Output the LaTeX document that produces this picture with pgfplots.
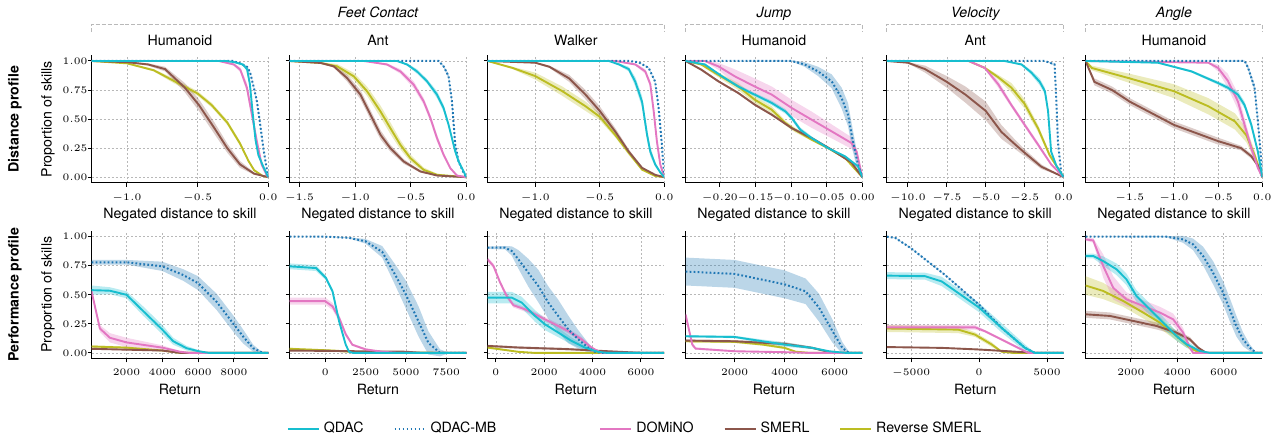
\documentclass[border=0pt]{standalone}
\usepackage{pgfplots}
\pgfplotsset{compat=1.18}
\usepgfplotslibrary{fillbetween}
\usepackage{fontspec}
\setmainfont{TeX Gyre Heros}
\definecolor{cQ}{HTML}{17BECF}
\definecolor{cB}{HTML}{1F77B4}
\definecolor{cP}{HTML}{E377C2}
\definecolor{cS}{HTML}{8C564B}
\definecolor{cR}{HTML}{BCBD22}
\newcommand{\lf}{\fontsize{7.1}{8.5}\selectfont}
\newcommand{\curve}[3]{%
 \addplot[draw=none, name path=U] table[row sep=\\, x=x, y expr=\thisrow{y}+\thisrow{d}] {x y d\\ #3};
 \addplot[draw=none, name path=L] table[row sep=\\, x=x, y expr=\thisrow{y}-\thisrow{d}] {x y d\\ #3};
 \addplot[fill=#1, fill opacity=0.3, draw=none] fill between[of=U and L];
 \addplot[color=#1, line width=0.95pt, #2] table[row sep=\\, x=x, y=y] {x y d\\ #3};
}
\pgfplotsset{
 base/.style={
  scale only axis, width=88.5pt, height=64pt, anchor=south west,
  axis x line*=bottom, axis y line*=left,
  axis line style={-, line width=0.5pt, black},
  tick align=outside, major tick length=1.8pt,
  tick style={black, line width=0.5pt},
  grid=major, grid style={dash pattern=on 1pt off 1pt, black!28, line width=0.3pt},
  ymin=-0.05, ymax=1.05, ytick={0,0.25,0.5,0.75,1},
  tick label style={font=\fontsize{5.2}{6}\selectfont},
  xticklabel style={yshift=0pt}, yticklabel style={xshift=3.3pt},
  yticklabel style={/pgf/number format/fixed, /pgf/number format/fixed zerofill, /pgf/number format/precision=2},
  scaled ticks=false,
  title style={at={(0.5,1)}, anchor=base, yshift=-1pt, font=\lf},
  every axis x label/.style={at={(axis description cs:0.5,0)}, anchor=base, yshift=-17.8pt, font=\lf},
  every axis y label/.style={at={(axis description cs:0,0.5)}, xshift=-20pt, rotate=90, anchor=base, font=\lf},
 },
 top/.style={base, at={(#1,128.5pt)}, xlabel={Negated distance to skill}, xmax=0},
 bot/.style={base, at={(#1,40.5pt)}, xlabel={Return}, xticklabel style={/pgf/number format/1000 sep={}}},
 noy/.style={yticklabels={}},
 p1/.style={xticklabel style={/pgf/number format/fixed, /pgf/number format/fixed zerofill, /pgf/number format/precision=1}},
 p2/.style={xticklabel style={/pgf/number format/fixed, /pgf/number format/fixed zerofill, /pgf/number format/precision=2}},
 dot/.style={line width=1pt, dash pattern=on 0.9pt off 1.1pt},
}
\begin{document}
\begin{tikzpicture}
% ---------------- top row ----------------
\begin{axis}[top=45.85pt, xmin=-1.25, xtick={-1,-0.5,0}, p1, title={Humanoid}, ylabel={Proportion of skills}]
\curve{cR}{solid}{-1.25 1 0\\ -1.0 0.98 0.005\\ -0.81 0.92 0.01\\ -0.67 0.83 0.02\\ -0.50 0.72 0.02\\ -0.40 0.62 0.02\\ -0.29 0.47 0.02\\ -0.20 0.29 0.02\\ -0.14 0.14 0.01\\ -0.10 0.06 0.01\\ -0.04 0.01 0\\ 0 0 0\\}
\curve{cS}{solid}{-1.25 1 0\\ -1.0 0.99 0.005\\ -0.85 0.97 0.01\\ -0.73 0.93 0.02\\ -0.59 0.77 0.04\\ -0.49 0.62 0.05\\ -0.38 0.42 0.05\\ -0.29 0.25 0.04\\ -0.20 0.11 0.03\\ -0.10 0.03 0.01\\ 0 0 0\\}
\curve{cP}{solid}{-1.25 1 0\\ -0.35 1 0\\ -0.244 0.97 0.01\\ -0.198 0.925 0.02\\ -0.151 0.77 0.04\\ -0.116 0.54 0.04\\ -0.081 0.31 0.03\\ -0.047 0.11 0.02\\ -0.012 0.02 0\\ 0 0 0\\}
\curve{cB}{dot}{-1.25 1 0\\ -0.25 1 0\\ -0.20 0.98 0\\ -0.15 0.95 0.005\\ -0.128 0.90 0.01\\ -0.10 0.76 0.01\\ -0.08 0.65 0.01\\ -0.06 0.48 0.01\\ -0.035 0.25 0.01\\ -0.015 0.10 0\\ 0 0 0\\}
\curve{cQ}{solid}{-1.25 1 0\\ -0.30 1 0\\ -0.24 0.99 0.005\\ -0.18 0.97 0.01\\ -0.15 0.93 0.02\\ -0.13 0.80 0.03\\ -0.11 0.55 0.04\\ -0.09 0.32 0.03\\ -0.07 0.19 0.02\\ -0.035 0.09 0.01\\ 0 0 0\\}
\end{axis}
\begin{axis}[top=145pt, noy, xmin=-1.59, xtick={-1.5,-1,-0.5,0}, p1, title={Ant}]
\curve{cR}{solid}{-1.59 1 0\\ -1.311 0.983 0.005\\ -1.162 0.954 0.02\\ -1.012 0.868 0.03\\ -0.892 0.739 0.04\\ -0.772 0.566 0.05\\ -0.683 0.422 0.05\\ -0.593 0.279 0.04\\ -0.503 0.164 0.03\\ -0.383 0.063 0.02\\ -0.263 0.02 0.01\\ 0 0 0\\}
\curve{cS}{solid}{-1.59 1 0\\ -1.311 0.983 0.005\\ -1.192 0.954 0.01\\ -1.072 0.853 0.03\\ -0.952 0.71 0.04\\ -0.862 0.537 0.04\\ -0.772 0.365 0.04\\ -0.683 0.25 0.03\\ -0.563 0.135 0.02\\ -0.413 0.049 0.01\\ -0.263 0.014 0\\ 0 0 0\\}
\curve{cP}{solid}{-1.59 1 0\\ -0.922 1 0\\ -0.713 0.97 0.01\\ -0.593 0.91 0.02\\ -0.473 0.796 0.03\\ -0.383 0.652 0.03\\ -0.323 0.509 0.03\\ -0.263 0.336 0.03\\ -0.204 0.193 0.02\\ -0.144 0.078 0.01\\ -0.084 0.014 0\\ 0 0 0\\}
\curve{cB}{dot}{-1.59 1 0\\ -0.249 1 0\\ -0.204 0.954 0.01\\ -0.159 0.868 0.02\\ -0.129 0.652 0.02\\ -0.099 0.279 0.02\\ -0.069 0.135 0.01\\ -0.03 0.05 0\\ 0 0 0\\}
\curve{cQ}{solid}{-1.59 1 0\\ -0.623 1 0\\ -0.533 0.97 0.01\\ -0.443 0.91 0.02\\ -0.353 0.825 0.02\\ -0.263 0.71 0.03\\ -0.204 0.595 0.03\\ -0.159 0.451 0.02\\ -0.129 0.336 0.02\\ -0.099 0.221 0.02\\ -0.069 0.135 0.01\\ -0.024 0.05 0\\ 0 0 0\\}
\end{axis}
\begin{axis}[top=244.15pt, noy, xmin=-1.37, xtick={-1,-0.5,0}, p1, title={Walker}]
\curve{cR}{solid}{-1.37 1 0\\ -1.175 0.94 0.01\\ -1.0 0.87 0.03\\ -0.79 0.74 0.04\\ -0.61 0.61 0.04\\ -0.5 0.52 0.03\\ -0.378 0.36 0.02\\ -0.275 0.21 0.02\\ -0.172 0.065 0.01\\ -0.07 0.01 0\\ 0 0 0\\}
\curve{cS}{solid}{-1.37 1 0\\ -1.0 0.985 0.005\\ -0.89 0.95 0.01\\ -0.737 0.85 0.03\\ -0.61 0.71 0.04\\ -0.5 0.57 0.04\\ -0.378 0.39 0.03\\ -0.275 0.22 0.02\\ -0.172 0.08 0.01\\ -0.07 0.02 0\\ 0 0 0\\}
\curve{cP}{solid}{-1.37 1 0\\ -0.38 1 0\\ -0.224 0.97 0.01\\ -0.147 0.91 0.02\\ -0.108 0.80 0.03\\ -0.082 0.57 0.03\\ -0.057 0.31 0.03\\ -0.031 0.11 0.02\\ 0 0 0\\}
\curve{cB}{dot}{-1.37 1 0\\ -0.275 1 0\\ -0.2 0.99 0\\ -0.12 0.94 0.005\\ -0.07 0.82 0.01\\ -0.044 0.6 0.01\\ -0.018 0.28 0.01\\ 0 0 0\\}
\curve{cQ}{solid}{-1.37 1 0\\ -0.43 1 0\\ -0.35 0.97 0.01\\ -0.275 0.93 0.02\\ -0.224 0.82 0.04\\ -0.172 0.65 0.05\\ -0.134 0.37 0.05\\ -0.108 0.22 0.04\\ -0.07 0.11 0.02\\ -0.03 0.04 0.01\\ 0 0 0\\}
\end{axis}
\begin{axis}[top=343.35pt, noy, xmin=-0.248, xtick={-0.2,-0.15,-0.1,-0.05,0}, p2, title={Humanoid}]
\curve{cR}{solid}{-0.248 1 0\\ -0.226 0.97 0.01\\ -0.202 0.88 0.02\\ -0.174 0.78 0.03\\ -0.151 0.667 0.03\\ -0.127 0.58 0.03\\ -0.108 0.466 0.02\\ -0.095 0.408 0.02\\ -0.071 0.322 0.01\\ -0.048 0.25 0.01\\ -0.024 0.164 0.01\\ 0 0 0\\}
\curve{cS}{solid}{-0.248 1 0\\ -0.226 0.925 0.01\\ -0.202 0.825 0.01\\ -0.174 0.724 0.01\\ -0.151 0.624 0.01\\ -0.127 0.537 0.01\\ -0.099 0.422 0.01\\ -0.071 0.336 0.01\\ -0.043 0.236 0.01\\ -0.015 0.125 0.01\\ 0 0 0\\}
\curve{cP}{solid}{-0.248 1 0\\ -0.221 1 0.005\\ -0.202 0.954 0.03\\ -0.179 0.868 0.06\\ -0.151 0.78 0.07\\ -0.127 0.71 0.07\\ -0.099 0.595 0.07\\ -0.071 0.494 0.07\\ -0.043 0.394 0.06\\ -0.015 0.293 0.05\\ -0.008 0.22 0.03\\ 0 0 0\\}
\curve{cB}{dot}{-0.248 1 0\\ -0.099 1 0.005\\ -0.081 0.97 0.02\\ -0.062 0.91 0.04\\ -0.043 0.825 0.06\\ -0.029 0.68 0.09\\ -0.02 0.537 0.1\\ -0.015 0.365 0.1\\ -0.01 0.22 0.08\\ -0.006 0.106 0.04\\ 0 0 0\\}
\curve{cQ}{solid}{-0.248 1 0\\ -0.221 0.97 0.01\\ -0.197 0.868 0.01\\ -0.174 0.78 0.015\\ -0.151 0.71 0.015\\ -0.127 0.638 0.02\\ -0.108 0.566 0.02\\ -0.099 0.509 0.02\\ -0.087 0.408 0.02\\ -0.071 0.336 0.015\\ -0.048 0.25 0.01\\ -0.024 0.178 0.01\\ -0.006 0.092 0.01\\ 0 0 0\\}
\end{axis}
\begin{axis}[top=444.15pt, noy, xmin=-11.35, xtick={-10,-7.5,-5,-2.5,0}, p1, title={Ant}]
\curve{cS}{solid}{-11.35 1 0\\ -10 0.985 0.005\\ -8.9 0.93 0.03\\ -7.5 0.82 0.05\\ -6.3 0.71 0.07\\ -5 0.57 0.08\\ -4 0.39 0.06\\ -3.1 0.28 0.04\\ -2.5 0.21 0.03\\ -1.43 0.09 0.02\\ 0 0 0\\}
\curve{cR}{solid}{-11.35 1 0\\ -6.1 1 0\\ -5.06 0.94 0.01\\ -4.2 0.86 0.02\\ -3.35 0.77 0.04\\ -2.5 0.63 0.04\\ -1.64 0.42 0.03\\ -0.9 0.19 0.02\\ 0 0 0\\}
\curve{cP}{solid}{-11.35 1 0\\ -6.1 1 0\\ -5.06 0.94 0.01\\ -4.2 0.80 0.03\\ -3.35 0.62 0.02\\ -2.5 0.45 0.02\\ -1.64 0.28 0.02\\ -0.8 0.11 0.01\\ 0 0 0\\}
\curve{cB}{dot}{-11.35 1 0\\ -1.2 1 0\\ -0.58 0.97 0.01\\ -0.48 0.70 0.01\\ -0.36 0.30 0.01\\ -0.15 0.03 0\\ 0 0 0\\}
\curve{cQ}{solid}{-11.35 1 0\\ -3.8 1 0\\ -2.7 0.97 0.01\\ -2.07 0.90 0.02\\ -1.53 0.82 0.03\\ -1.2 0.74 0.03\\ -1.0 0.57 0.02\\ -0.8 0.22 0.02\\ -0.47 0.10 0.01\\ 0 0 0\\}
\end{axis}
\begin{axis}[top=543.65pt, noy, xmin=-2.0, xtick={-1.5,-1,-0.5,0}, p1, title={Humanoid}]
\curve{cR}{solid}{-2.0 1 0\\ -1.93 0.94 0.02\\ -1.5 0.85 0.04\\ -1.0 0.74 0.06\\ -0.61 0.61 0.07\\ -0.31 0.48 0.07\\ -0.18 0.36 0.06\\ -0.087 0.19 0.04\\ 0 0 0\\}
\curve{cS}{solid}{-2.0 1 0\\ -1.9 0.82 0.03\\ -1.7 0.75 0.03\\ -1.5 0.65 0.03\\ -1.0 0.45 0.03\\ -0.5 0.31 0.03\\ -0.24 0.25 0.02\\ -0.124 0.18 0.02\\ -0.05 0.1 0.01\\ 0 0 0\\}
\curve{cP}{solid}{-2.0 1 0\\ -0.61 0.985 0.005\\ -0.5 0.94 0.03\\ -0.39 0.83 0.06\\ -0.275 0.65 0.07\\ -0.2 0.45 0.06\\ -0.124 0.25 0.04\\ -0.05 0.08 0.02\\ 0 0 0\\}
\curve{cB}{dot}{-2.0 1 0\\ -0.2 1 0.005\\ -0.16 0.94 0.02\\ -0.087 0.77 0.03\\ -0.05 0.48 0.03\\ -0.011 0.135 0.01\\ 0 0 0\\}
\curve{cQ}{solid}{-2.0 1 0\\ -1.18 0.985 0.005\\ -0.8 0.91 0.01\\ -0.5 0.81 0.015\\ -0.39 0.77 0.02\\ -0.275 0.71 0.03\\ -0.2 0.62 0.03\\ -0.124 0.45 0.03\\ -0.05 0.22 0.02\\ 0 0 0\\}
\end{axis}
% ---------------- bottom row ----------------
\begin{axis}[bot=45.85pt, xmin=45, xmax=9920, xtick={2000,4000,6000,8000}, ylabel={Proportion of skills}]
\curve{cR}{solid}{45 0.055 0.01\\ 2000 0.045 0.01\\ 4000 0.02 0.005\\ 5000 0 0\\ 9920 0 0\\}
\curve{cS}{solid}{45 0.035 0.005\\ 4000 0.02 0.005\\ 5000 0 0\\ 9920 0 0\\}
\curve{cP}{solid}{45 0.53 0.02\\ 510 0.21 0.03\\ 1070 0.13 0.04\\ 2000 0.09 0.04\\ 4000 0.045 0.02\\ 4990 0.01 0.005\\ 5500 0 0\\ 9920 0 0\\}
\curve{cB}{dot}{45 0.78 0.02\\ 2000 0.78 0.02\\ 4000 0.745 0.04\\ 5170 0.67 0.05\\ 6000 0.60 0.06\\ 7030 0.44 0.07\\ 8000 0.245 0.07\\ 8520 0.14 0.06\\ 9080 0.04 0.03\\ 9630 0 0\\ 9920 0 0\\}
\curve{cQ}{solid}{45 0.54 0.04\\ 1070 0.535 0.03\\ 2000 0.50 0.03\\ 2930 0.36 0.04\\ 4000 0.20 0.04\\ 4610 0.10 0.03\\ 5360 0.04 0.02\\ 6000 0.015 0.01\\ 6600 0 0\\ 9920 0 0\\}
\end{axis}
\begin{axis}[bot=145pt, noy, xmin=-2213, xmax=8735, xtick={0,2500,5000,7500}]
\curve{cR}{solid}{-2213 0.035 0.01\\ 500 0.02 0.005\\ 2000 0.005 0\\ 8735 0 0\\}
\curve{cS}{solid}{-2213 0.02 0.005\\ 5000 0.01 0\\ 6000 0 0\\ 8735 0 0\\}
\curve{cP}{solid}{-2213 0.445 0.03\\ 0 0.445 0.03\\ 450 0.40 0.03\\ 860 0.30 0.03\\ 1270 0.16 0.02\\ 1680 0.07 0.01\\ 2500 0.03 0.01\\ 3525 0.01 0\\ 4500 0 0\\ 8735 0 0\\}
\curve{cB}{dot}{-2213 1.0 0\\ 0 1.0 0\\ 1475 0.99 0.005\\ 2500 0.96 0.02\\ 3525 0.87 0.05\\ 4340 0.67 0.09\\ 5000 0.50 0.12\\ 5780 0.27 0.13\\ 6390 0.086 0.1\\ 7110 0.0 0.03\\ 7700 0 0\\ 8735 0 0\\}
\curve{cQ}{solid}{-2213 0.745 0.025\\ -574 0.73 0.025\\ 41 0.645 0.02\\ 450 0.53 0.02\\ 860 0.27 0.02\\ 1270 0.07 0.01\\ 1475 0.01 0\\ 1700 0 0\\ 8735 0 0\\}
\end{axis}
\begin{axis}[bot=244.15pt, noy, xmin=-343, xmax=6965, xtick={0,2000,4000,6000}]
\curve{cR}{solid}{-343 0.046 0.01\\ 934 0.009 0.005\\ 1600 0 0\\ 6965 0 0\\}
\curve{cS}{solid}{-343 0.06 0.01\\ 934 0.046 0.01\\ 2993 0.032 0.01\\ 4366 0.017 0.005\\ 5740 0.003 0\\ 6200 0 0\\ 6965 0 0\\}
\curve{cP}{solid}{-343 0.805 0.02\\ -96 0.748 0.02\\ 178 0.605 0.02\\ 453 0.49 0.02\\ 728 0.41 0.02\\ 1208 0.375 0.02\\ 1757 0.318 0.02\\ 2307 0.26 0.02\\ 2993 0.189 0.02\\ 3542 0.117 0.02\\ 3954 0.046 0.01\\ 4366 0 0\\ 6965 0 0\\}
\curve{cB}{dot}{-343 0.905 0.01\\ 384 0.905 0.015\\ 659 0.877 0.04\\ 934 0.805 0.08\\ 1345 0.69 0.12\\ 1757 0.576 0.14\\ 2170 0.433 0.14\\ 2580 0.318 0.14\\ 2993 0.203 0.12\\ 3405 0.117 0.08\\ 3817 0.046 0.04\\ 4090 0.01 0.01\\ 4400 0 0\\ 6965 0 0\\}
\curve{cQ}{solid}{-343 0.476 0.05\\ 659 0.476 0.05\\ 1071 0.433 0.05\\ 1620 0.318 0.05\\ 2032 0.246 0.05\\ 2581 0.175 0.04\\ 3130 0.103 0.03\\ 3680 0.046 0.02\\ 4229 0.009 0.005\\ 4600 0 0\\ 6965 0 0\\}
\end{axis}
\begin{axis}[bot=343.35pt, noy, xmin=40, xmax=7107, xtick={2000,4000,6000}]
\curve{cR}{solid}{40 0.10 0.01\\ 2000 0.095 0.01\\ 3107 0.072 0.01\\ 4000 0.043 0.01\\ 4440 0.01 0\\ 5000 0 0\\ 7107 0 0\\}
\curve{cS}{solid}{40 0.106 0.01\\ 2000 0.10 0.01\\ 4000 0.077 0.015\\ 5107 0.043 0.01\\ 5907 0 0\\ 7107 0 0\\}
\curve{cP}{solid}{40 0.33 0.02\\ 307 0.072 0.02\\ 440 0.037 0.01\\ 2000 0.014 0.005\\ 4000 0.006 0\\ 5000 0 0\\ 7107 0 0\\}
\curve{cB}{dot}{40 0.70 0.12\\ 2000 0.68 0.12\\ 3107 0.63 0.12\\ 4000 0.59 0.12\\ 4840 0.53 0.11\\ 5373 0.39 0.12\\ 5907 0.19 0.10\\ 6307 0.043 0.05\\ 6573 0 0.01\\ 7107 0 0\\}
\curve{cQ}{solid}{40 0.143 0.01\\ 2000 0.137 0.01\\ 3107 0.10 0.015\\ 4000 0.072 0.02\\ 5107 0.043 0.01\\ 5773 0.014 0.005\\ 6440 0 0\\ 7107 0 0\\}
\end{axis}
\begin{axis}[bot=444.15pt, noy, xmin=-6785, xmax=6220, xtick={-5000,0,5000}]
\curve{cR}{solid}{-6785 0.21 0.03\\ -1528 0.20 0.03\\ -293 0.157 0.02\\ 930 0.072 0.02\\ 1660 0.01 0.005\\ 2500 0 0\\ 6220 0 0\\}
\curve{cS}{solid}{-6785 0.05 0.005\\ -2750 0.043 0.005\\ 0 0.029 0.005\\ 2150 0.014 0.005\\ 4110 0 0\\ 6220 0 0\\}
\curve{cP}{solid}{-6785 0.22 0.02\\ -293 0.22 0.02\\ 440 0.186 0.01\\ 1660 0.115 0.01\\ 2885 0.043 0.01\\ 3620 0 0\\ 6220 0 0\\}
\curve{cB}{dot}{-6785 1.0 0\\ -6170 0.99 0.005\\ -5000 0.90 0.005\\ -2500 0.67 0.005\\ 0 0.415 0.01\\ 1660 0.215 0.01\\ 3375 0.043 0.01\\ 4110 0 0\\ 6220 0 0\\}
\curve{cQ}{solid}{-6785 0.665 0.03\\ -3973 0.66 0.03\\ -2750 0.615 0.04\\ -1528 0.515 0.04\\ 0 0.39 0.04\\ 1660 0.215 0.04\\ 3375 0.043 0.03\\ 4110 0 0\\ 6220 0 0\\}
\end{axis}
\begin{axis}[bot=543.65pt, noy, xmin=50, xmax=7660, xtick={2000,4000,6000}]
\curve{cR}{solid}{50 0.58 0.08\\ 810 0.533 0.07\\ 1670 0.447 0.05\\ 2530 0.347 0.05\\ 3250 0.26 0.05\\ 3960 0.146 0.04\\ 4540 0.046 0.02\\ 4960 0 0\\ 7660 0 0\\}
\curve{cS}{solid}{50 0.332 0.03\\ 1100 0.318 0.03\\ 2100 0.275 0.03\\ 3100 0.232 0.03\\ 3960 0.175 0.02\\ 4540 0.117 0.02\\ 4890 0.046 0.01\\ 5250 0 0\\ 7660 0 0\\}
\curve{cP}{solid}{50 0.977 0.01\\ 380 0.968 0.02\\ 810 0.748 0.1\\ 1240 0.56 0.1\\ 1810 0.461 0.06\\ 2530 0.404 0.05\\ 3250 0.347 0.05\\ 3820 0.289 0.05\\ 4250 0.175 0.04\\ 4540 0.046 0.02\\ 4680 0 0\\ 7660 0 0\\}
\curve{cB}{dot}{50 1.0 0\\ 3532 1.0 0.005\\ 4250 0.977 0.03\\ 4680 0.934 0.05\\ 5110 0.834 0.08\\ 5540 0.69 0.1\\ 5970 0.519 0.1\\ 6255 0.375 0.1\\ 6540 0.232 0.09\\ 6830 0.117 0.06\\ 7115 0.046 0.03\\ 7400 0 0\\ 7660 0 0\\}
\curve{cQ}{solid}{50 0.834 0.02\\ 380 0.834 0.02\\ 810 0.79 0.04\\ 1380 0.72 0.05\\ 1810 0.633 0.05\\ 2240 0.49 0.05\\ 2820 0.375 0.05\\ 3390 0.26 0.05\\ 3960 0.146 0.04\\ 4390 0.075 0.03\\ 4960 0.017 0.01\\ 5400 0 0\\ 7660 0 0\\}
\end{axis}
% ---------------- legends ----------------
\begin{axis}[at={(143.5pt,0.5pt)}, anchor=south west, scale only axis, width=10pt, height=10pt, hide axis, xmin=0, xmax=1, ymin=0, ymax=1,
 legend style={at={(0,0.5)}, anchor=west, draw=none, fill=none, inner sep=0pt, font=\lf, legend columns=-1, /tikz/every even column/.append style={column sep=13pt}},
 legend image code/.code={\draw[#1] (0pt,0pt) -- (15.5pt,0pt);}]
\addlegendimage{cQ, line width=0.95pt}\addlegendentry{QDAC}
\addlegendimage{cB, line width=1pt, dash pattern=on 0.9pt off 1.1pt}\addlegendentry{QDAC-MB}
\end{axis}
\begin{axis}[at={(300pt,0.5pt)}, anchor=south west, scale only axis, width=10pt, height=10pt, hide axis, xmin=0, xmax=1, ymin=0, ymax=1,
 legend style={at={(0,0.5)}, anchor=west, draw=none, fill=none, inner sep=0pt, font=\lf, legend columns=-1, /tikz/every even column/.append style={column sep=13pt}},
 legend image code/.code={\draw[#1] (0pt,0pt) -- (15.5pt,0pt);}]
\addlegendimage{cP, line width=0.95pt}\addlegendentry{DOMiNO}
\addlegendimage{cS, line width=0.95pt}\addlegendentry{SMERL}
\addlegendimage{cR, line width=0.95pt}\addlegendentry{Reverse SMERL}
\end{axis}
% ---------------- group titles and row labels ----------------
\begin{scope}[gray!55, dash pattern=on 2pt off 1pt, line width=0.5pt]
\draw (45.85pt,204pt) -- (45.85pt,208pt) -- (332.65pt,208pt) -- (332.65pt,204pt);
\draw (343.35pt,204pt) -- (343.35pt,208pt) -- (431.85pt,208pt) -- (431.85pt,204pt);
\draw (444.15pt,204pt) -- (444.15pt,208pt) -- (532.65pt,208pt) -- (532.65pt,204pt);
\draw (543.65pt,204pt) -- (543.65pt,208pt) -- (632.15pt,208pt) -- (632.15pt,204pt);
\end{scope}
\node[anchor=base, font=\lf\itshape] at (189.25pt,211.5pt) {Feet Contact};
\node[anchor=base, font=\lf\itshape] at (387.6pt,211.5pt) {Jump};
\node[anchor=base, font=\lf\itshape] at (488.4pt,211.5pt) {Velocity};
\node[anchor=base, font=\lf\itshape] at (587.9pt,211.5pt) {Angle};
\node[rotate=90, font=\lf\bfseries] at (7.5pt,160.5pt) {Distance profile};
\node[rotate=90, font=\lf\bfseries] at (7.5pt,72.5pt) {Performance profile};
\path (0,0) rectangle (639pt,219pt);
\end{tikzpicture}
\end{document}
